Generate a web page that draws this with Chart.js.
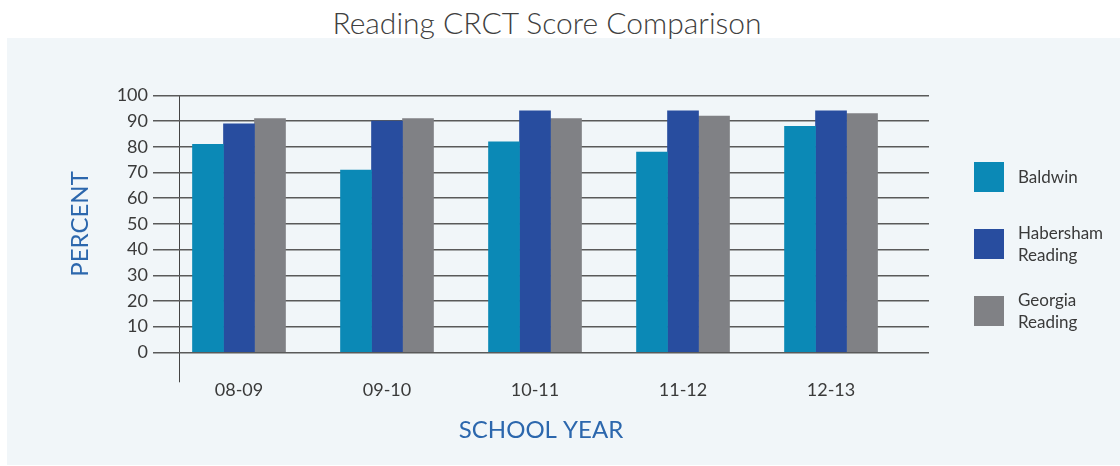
<!DOCTYPE html>
<html>
<head>
<meta charset="utf-8">
<script src="https://cdn.jsdelivr.net/npm/chart.js@4"></script>
<style>
    body { margin: 0; width: 1120px; height: 466px; background: #fff; overflow: hidden; font-family: Lato, sans-serif; }
    #panel { position: absolute; left: 7px; top: 38px; width: 1113px; height: 427px; background: #f1f6f9; }
    #title { position: absolute; left: 0; top: 0; width: 1094px; height: 44px; line-height: 44px; text-align: center; font-size: 30px; font-weight: 300; color: #404040; }
    #wrap { position: absolute; left: 0; top: 0; width: 1120px; height: 466px; }
    #legend { position: absolute; left: 974px; top: 155px; display: flex; flex-direction: column; gap: 23px; }
    .item { display: flex; align-items: center; height: 44px; }
    .box { width: 30px; height: 30px; margin-right: 14px; flex: none; }
    .label { font-size: 17px; line-height: 22px; color: #3a3a3a; max-width: 95px; }
</style>
</head>
<body>
<div id="panel"></div>
<div id="title">Reading CRCT Score Comparison</div>
<div id="wrap"><canvas id="chart" width="1120" height="466"></canvas></div>
<div id="legend"></div>

<script>
const years = ["08-09", "09-10", "10-11", "11-12", "12-13"];
const seriesNames = ["Baldwin", "Habersham Reading", "Georgia Reading"];
const seriesColors = ["#0b89b6", "#284d9f", "#808185"];

const baldwin = [81, 71, 82, 78, 88];
const habersham = [89, 90, 94, 94, 94];
const georgia = [91, 91, 91, 92, 93];

const yTicks = [0, 10, 20, 30, 40, 50, 60, 70, 80, 90, 100];

// where the vertical axis line sits, in x-scale units (left of the first group)
const axisLinePos = -0.4;

const allSeries = [baldwin, habersham, georgia];

const datasets = allSeries.map((values, s) => ({
    label: seriesNames[s],
    data: values.map((v, i) => ({ x: i, y: v })),
    backgroundColor: seriesColors[s],
    barThickness: 31,
    borderWidth: 0
}));

new Chart(document.getElementById("chart"), {
    type: "bar",
    data: { datasets: datasets },
    options: {
        responsive: false,
        animation: false,
        layout: { padding: { top: 95.5, left: 0, right: 191, bottom: 21.6 } },
        plugins: {
            legend: { display: false },
            tooltip: { enabled: false }
        },
        scales: {
            x: {
                type: "linear",
                offset: false,
                bounds: "data",
                min: -0.581,
                max: 4.662,
                afterBuildTicks: scale => {
                    scale.ticks = [{ value: axisLinePos }].concat(years.map((y, i) => ({ value: i })));
                },
                afterFit: scale => { scale.height = 92.1; },
                border: { display: false },
                grid: {
                    offset: false,
                    drawOnChartArea: true,
                    tickLength: 30,
                    lineWidth: 1,
                    color: ctx => ctx.index === 0 ? "#444" : "rgba(0,0,0,0)"
                },
                ticks: {
                    autoSkip: false,
                    maxRotation: 0,
                    padding: -3,
                    color: "#3a3a3a",
                    font: { family: "Lato", size: 18 },
                    callback: (value) => Number.isInteger(value) ? years[value] : ""
                },
                title: {
                    display: true,
                    text: "SCHOOL YEAR",
                    color: "#2c67ad",
                    padding: 0,
                    font: { family: "Lato", size: 24 }
                }
            },
            y: {
                min: 0,
                max: 100,
                afterBuildTicks: scale => {
                    scale.ticks = yTicks.map(v => ({ value: v }));
                },
                afterFit: scale => { scale.width = 153; },
                border: { display: false },
                grid: {
                    drawTicks: false,
                    color: "#5a5a5a",
                    lineWidth: 1.5
                },
                ticks: {
                    padding: 5,
                    color: "#3a3a3a",
                    font: { family: "Lato", size: 18 }
                },
                title: {
                    display: true,
                    text: "PERCENT",
                    color: "#2c67ad",
                    padding: { top: 65.4, bottom: 0 },
                    font: { family: "Lato", size: 24 }
                }
            }
        }
    }
});

// legend built from the same series names and colours
const legend = document.getElementById("legend");
seriesNames.forEach((name, i) => {
    legend.innerHTML += `
        <div class="item">
            <div class="box" style="background:${seriesColors[i]}"></div>
            <div class="label">${name}</div>
        </div>
    `;
});
</script>
</body>
</html>
